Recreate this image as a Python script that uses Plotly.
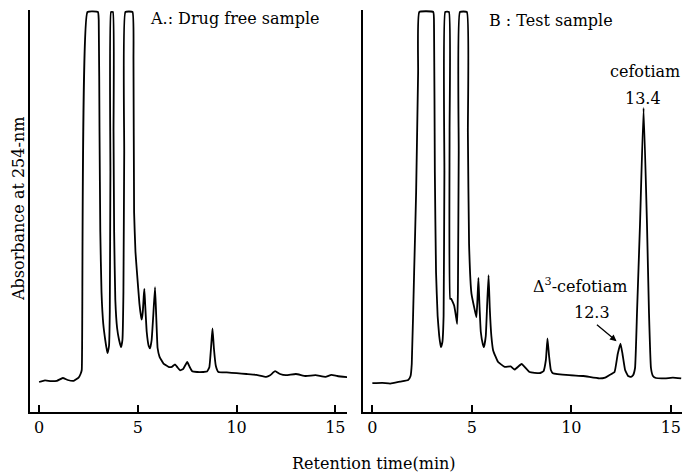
import plotly.graph_objects as go

# Panel A: drug free sample (time in min, absorbance in arbitrary units, 100 = off scale)
time_a = [0, 0.3, 0.6, 0.9, 1.2, 1.45, 1.75, 2.0, 2.1, 2.16, 2.45, 2.98, 3.02, 3.06, 3.1, 3.16, 3.25, 3.35, 3.46,
          3.54, 3.58, 3.61, 3.64, 3.74, 3.77, 3.8, 3.86, 3.95, 4.05, 4.15, 4.22, 4.27, 4.31, 4.37, 4.73, 4.78, 4.81,
          4.88, 4.95, 5.08, 5.16, 5.2, 5.25, 5.3, 5.33, 5.37, 5.45, 5.55, 5.62, 5.7, 5.78, 5.87, 5.93, 6.0, 6.1,
          6.3, 6.55, 6.72, 6.88, 7.0, 7.14, 7.3, 7.5, 7.62, 7.75, 8.0, 8.3, 8.5, 8.62, 8.72, 8.78, 8.85, 8.95,
          9.08, 9.5, 10.0, 10.5, 11.0, 11.5, 11.7, 11.95, 12.2, 12.5, 13.0, 13.5, 14.0, 14.5, 14.8, 15.1, 15.6]
abs_a = [7.5, 7.9, 7.7, 7.8, 8.5, 8.0, 7.8, 8.6, 9.5, 10.5, 100, 100, 98, 70, 45, 30, 22, 18, 14.7,
         16.5, 25, 60, 100, 100, 70, 45, 28, 21, 18, 16.2, 18, 30, 65, 100, 100, 88, 50,
         40, 35.3, 27.1, 24, 23.1, 25, 29, 30.8, 27, 20, 16.5, 15.9, 18, 24, 31.2, 24, 16, 13.8,
         12.1, 11.3, 11.3, 11.9, 11.2, 10.4, 10.8, 12.5, 11.3, 10.2, 10.0, 10.0, 10.1, 11.2, 17, 20.9, 16, 11.5,
         10.0, 9.9, 9.7, 9.5, 9.3, 8.8, 9.2, 10.2, 9.5, 9.2, 9.5, 9.0, 9.2, 8.8, 9.3, 9.0, 8.7]

# Panel B: test sample
time_b = [0, 0.5, 0.9, 1.4, 1.8, 1.92, 1.98, 2.1, 2.2, 2.3, 2.36, 3.06, 3.1, 3.14, 3.2, 3.28, 3.36, 3.44,
          3.52, 3.58, 3.62, 3.66, 3.85, 3.88, 3.91, 3.96, 4.03, 4.11, 4.2, 4.26, 4.3, 4.34, 4.4, 4.75, 4.8, 4.86,
          4.98, 5.15, 5.23, 5.28, 5.33, 5.38, 5.45, 5.55, 5.61, 5.7, 5.77, 5.84, 5.9, 5.98, 6.07, 6.32, 6.65,
          6.95, 7.15, 7.5, 7.9, 8.4, 8.6, 8.72, 8.8, 8.88, 8.97, 9.07, 9.9, 10.6, 11.4, 11.7, 11.9, 12.17, 12.33,
          12.47, 12.57, 12.7, 12.85, 13.0, 13.1, 13.2, 13.3, 13.45, 13.63, 13.8, 13.9, 14.0, 14.1, 14.25, 14.7,
          15.1, 15.52]
abs_b = [7.2, 7.3, 7.1, 7.6, 8.0, 9.0, 12, 35, 55, 85, 100, 100, 96, 60, 35, 24, 19, 16.2,
         17.5, 24, 60, 100, 100, 70, 28.3, 28.3, 27.6, 26.6, 24, 22, 30, 65, 100, 100, 70, 42,
         29.6, 25.4, 23.7, 28, 33.5, 27, 20, 17, 16.2, 19, 27, 34.2, 26, 19, 15.4, 12.5, 11.3,
         11.4, 10.6, 12.0, 10.0, 9.7, 10.2, 13, 18.4, 14, 10.5, 9.7, 9.2, 9.0, 8.4, 8.6, 9.2, 10.0, 14.5,
         17.1, 14.5, 10.5, 9.0, 8.8, 9.2, 11, 25, 47, 76, 47, 25, 11, 9.0, 8.5, 8.4,
         8.6, 8.4]

x_ticks = [0, 5, 10, 15]
x_tick_labels = ["0", "5", "10", "15"]

W, H = 682, 474
FONT = "DejaVu Serif"


def px_x(p):
    return p / W


def px_y(p):
    return 1 - p / H


fig = go.Figure()
line_style = dict(color="black", width=1.8, shape="spline", smoothing=0.35)
fig.add_trace(go.Scatter(x=time_a, y=abs_a, mode="lines", line=line_style,
                         xaxis="x", yaxis="y", showlegend=False, hoverinfo="skip"))
fig.add_trace(go.Scatter(x=time_b, y=abs_b, mode="lines", line=line_style,
                         xaxis="x2", yaxis="y2", showlegend=False, hoverinfo="skip"))

xcommon = dict(showline=True, linecolor="black", linewidth=2, ticks="inside", ticklen=7,
               tickwidth=1.5, tickcolor="black", tickvals=x_ticks, ticktext=x_tick_labels,
               tickfont=dict(family=FONT, size=16, color="black"), showgrid=False, zeroline=False)
ycommon = dict(showline=True, linecolor="black", linewidth=2, ticks="", showticklabels=False,
               showgrid=False, zeroline=False, range=[0, 100.5],
               domain=[px_y(412), px_y(10)])

fig.update_layout(
    width=W, height=H,
    margin=dict(l=0, r=0, t=0, b=0),
    paper_bgcolor="white", plot_bgcolor="white",
    xaxis=dict(xcommon, domain=[px_x(30), px_x(347)], range=[-0.46, 15.59], anchor="y"),
    yaxis=dict(ycommon, anchor="x"),
    xaxis2=dict(xcommon, domain=[px_x(363), 1.0], range=[-0.47, 15.56], anchor="y2"),
    yaxis2=dict(ycommon, anchor="x2"),
)

ann_font = dict(family=FONT, size=16, color="black")
annotations = [
    dict(text="A.: Drug free sample", x=5.52, y=98.3, xref="x", yref="y", xanchor="left",
         yanchor="middle", showarrow=False, font=ann_font),
    dict(text="B : Test sample", x=5.75, y=97.8, xref="x2", yref="y2", xanchor="left",
         yanchor="middle", showarrow=False, font=ann_font),
    dict(text="cefotiam", x=13.7, y=85, xref="x2", yref="y2", xanchor="center", yanchor="middle",
         showarrow=False, font=ann_font),
    dict(text="13.4", x=13.62, y=78.4, xref="x2", yref="y2", xanchor="center", yanchor="middle",
         showarrow=False, font=ann_font),
    dict(text="Δ<sup>3</sup>-cefotiam", x=10.44, y=31.6, xref="x2", yref="y2", xanchor="center",
         yanchor="middle", showarrow=False, font=ann_font),
    dict(text="12.3", x=11.06, y=24.9, xref="x2", yref="y2", xanchor="center", yanchor="middle",
         showarrow=False, font=ann_font),
    dict(text="", x=12.27, y=17.7, ax=11.21, ay=22.1, xref="x2", yref="y2", axref="x2", ayref="y2",
         showarrow=True, arrowhead=2, arrowsize=1, arrowwidth=1.3, arrowcolor="black"),
    dict(text="Absorbance at 254-nm", x=px_x(18), y=px_y(209), xref="paper", yref="paper",
         xanchor="center", yanchor="middle", textangle=-90, showarrow=False, font=ann_font),
    dict(text="Retention time(min)", x=px_x(374), y=px_y(463), xref="paper", yref="paper",
         xanchor="center", yanchor="middle", showarrow=False, font=ann_font),
]
fig.update_layout(annotations=annotations)

fig.write_html("out.html", config={"displayModeBar": False},
               post_script="document.body.style.margin='0px';document.body.style.padding='0px';")
